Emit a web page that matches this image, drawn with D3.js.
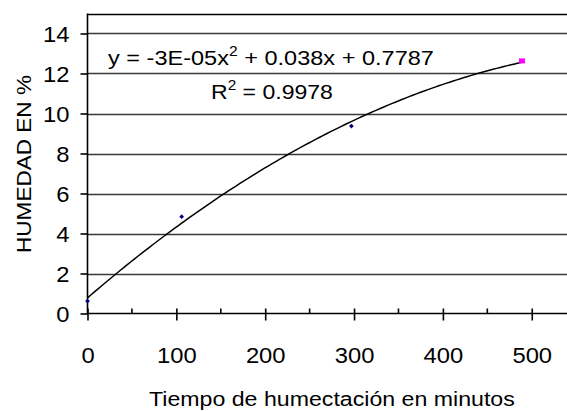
<!DOCTYPE html>
<html>
<head>
<meta charset="utf-8">
<script src="https://cdn.jsdelivr.net/npm/d3@7/dist/d3.min.js"></script>
<style>
html,body{margin:0;padding:0;background:#fff;}
svg{display:block;}
text{font-family:"Liberation Sans",Arial,sans-serif;fill:#000;}
</style>
</head>
<body>
<svg id="chart" width="567" height="411"></svg>
<script>
// ---- data ----
const timeMinutes = [0, 106, 297, 489];
const humidityPct = [0.62, 4.84, 9.37, 12.63];
const highlightIndex = 3;
const xTicks = [0, 100, 200, 300, 400, 500];
const xMinorTicks = [50, 150, 250, 350, 450, 550];
const yTicks = [0, 2, 4, 6, 8, 10, 12, 14];
const equationText = ["y = -3E-05x", "2", " + 0.038x + 0.7787"];
const r2Text = ["R", "2", " = 0.9978"];
const xTitle = "Tiempo de humectación en minutos";
const yTitle = "HUMEDAD EN %";

// ---- layout ----
const svg = d3.select("#chart");
const plotLeft = 87.5, plotTop = 13.5, plotBottom = 313.5;
const x = d3.scaleLinear().domain([0, 550]).range([plotLeft, plotLeft + 550 * 0.8885]);
const y = d3.scaleLinear().domain([0, 15]).range([plotBottom, plotTop]);

// stretch a text horizontally so its ink-box spans targetWidth, keeping its left edge
function fitWidth(node, targetWidth) {
  const b = node.getBBox();
  const k = targetWidth / b.width;
  node.setAttribute("transform", `translate(${b.x},0) scale(${k},1) translate(${-b.x},0)`);
}
function stretchAbout(node, k, cx) {
  node.setAttribute("transform", `translate(${cx},0) scale(${k},1) translate(${-cx},0)`);
}

// gridlines
svg.append("g").selectAll("line").data(yTicks.filter(d => d > 0).concat([15]))
  .join("line")
  .attr("x1", plotLeft).attr("x2", 567)
  .attr("y1", d => Math.round(y(d)) + 0.5).attr("y2", d => Math.round(y(d)) + 0.5)
  .attr("stroke", d => d === 15 ? "#000" : "#3a3a3a").attr("stroke-width", 1.6);

// y axis
const yAxis = d3.axisLeft(y).tickValues(yTicks).tickSize(7).tickPadding(11).tickFormat(d3.format("d"));
const gy = svg.append("g").attr("transform", `translate(${plotLeft},0)`).call(yAxis);
gy.select(".domain").remove();
gy.selectAll(".tick line").attr("stroke", "#000").attr("stroke-width", 1.6);
gy.selectAll(".tick text").style("font-size", "22px").attr("dy", "0.36em")
  .each(function() { stretchAbout(this, 1.08, -18); });
svg.append("line").attr("x1", plotLeft).attr("x2", plotLeft).attr("y1", plotTop).attr("y2", plotBottom)
  .attr("stroke", "#000").attr("stroke-width", 1.6);

// x axis
const gx = svg.append("g").attr("transform", `translate(0,${plotBottom})`)
  .call(d3.axisBottom(x).tickValues(xTicks).tickSize(7).tickPadding(27).tickFormat(d3.format("d")));
gx.select(".domain").remove();
gx.selectAll(".tick line").attr("y1", -5).attr("stroke", "#000").attr("stroke-width", 1.6);
gx.selectAll(".tick text").style("font-size", "22px")
  .each(function() { stretchAbout(this, 1.08, 0); });
svg.append("g").selectAll("line").data(xMinorTicks).join("line")
  .attr("x1", d => x(d)).attr("x2", d => x(d)).attr("y1", plotBottom - 5).attr("y2", plotBottom)
  .attr("stroke", "#000").attr("stroke-width", 1.6);
svg.append("line").attr("x1", plotLeft).attr("x2", 567).attr("y1", plotBottom).attr("y2", plotBottom)
  .attr("stroke", "#000").attr("stroke-width", 1.6);

// quadratic least squares trendline
function fitQuadratic(xs, ys) {
  const n = xs.length;
  let s = [0,0,0,0,0], t = [0,0,0];
  for (let i = 0; i < n; i++) {
    let p = 1;
    for (let k = 0; k < 5; k++) { s[k] += p; if (k < 3) t[k] += p * ys[i]; p *= xs[i]; }
  }
  const M = [[s[0], s[1], s[2], t[0]], [s[1], s[2], s[3], t[1]], [s[2], s[3], s[4], t[2]]];
  for (let c = 0; c < 3; c++) {
    for (let r = c + 1; r < 3; r++) {
      const f = M[r][c] / M[c][c];
      for (let k = c; k < 4; k++) M[r][k] -= f * M[c][k];
    }
  }
  const sol = [0,0,0];
  for (let r = 2; r >= 0; r--) {
    let v = M[r][3];
    for (let k = r + 1; k < 3; k++) v -= M[r][k] * sol[k];
    sol[r] = v / M[r][r];
  }
  return sol; // c, b, a
}
const [c0, c1, c2] = fitQuadratic(timeMinutes, humidityPct);
const xmax = d3.max(timeMinutes);
const curve = d3.range(0, xmax + 0.001, xmax / 120).map(t => [t, c0 + c1 * t + c2 * t * t]);
svg.append("path").datum(curve)
  .attr("d", d3.line().x(d => x(d[0])).y(d => y(d[1])))
  .attr("fill", "none").attr("stroke", "#000").attr("stroke-width", 1.5);

// points
const pts = timeMinutes.map((t, i) => ({t, h: humidityPct[i], i}));
svg.append("g").selectAll("path").data(pts.filter(p => p.i !== highlightIndex)).join("path")
  .attr("d", d3.symbol(d3.symbolSquare, 11)())
  .attr("transform", p => `translate(${x(p.t)},${y(p.h)}) rotate(45)`)
  .attr("fill", "#000080");
svg.append("g").selectAll("rect").data(pts.filter(p => p.i === highlightIndex)).join("rect")
  .attr("x", p => x(p.t) - 3).attr("y", p => y(p.h) - 2.5).attr("width", 6).attr("height", 5)
  .attr("fill", "#ff00ff");

// equation labels
function supText(parts, xPos, yPos, width) {
  const tx = svg.append("text").attr("x", xPos).attr("y", yPos).style("font-size", "21px");
  tx.append("tspan").text(parts[0]);
  tx.append("tspan").attr("dy", -9).style("font-size", "14px").text(parts[1]);
  tx.append("tspan").attr("dy", 9).text(parts[2]);
  fitWidth(tx.node(), width);
}
supText(equationText, 108, 65, 326);
supText(r2Text, 211, 99, 122);

// titles
const xt = svg.append("text").attr("x", 149).attr("y", 406.5)
  .style("font-size", "21px").text(xTitle);
fitWidth(xt.node(), 366);
svg.append("text").attr("transform", `translate(31,164) rotate(-90)`)
  .attr("text-anchor", "middle").style("font-size", "21px")
  .attr("textLength", 178).attr("lengthAdjust", "spacingAndGlyphs").text(yTitle);
</script>
</body>
</html>
